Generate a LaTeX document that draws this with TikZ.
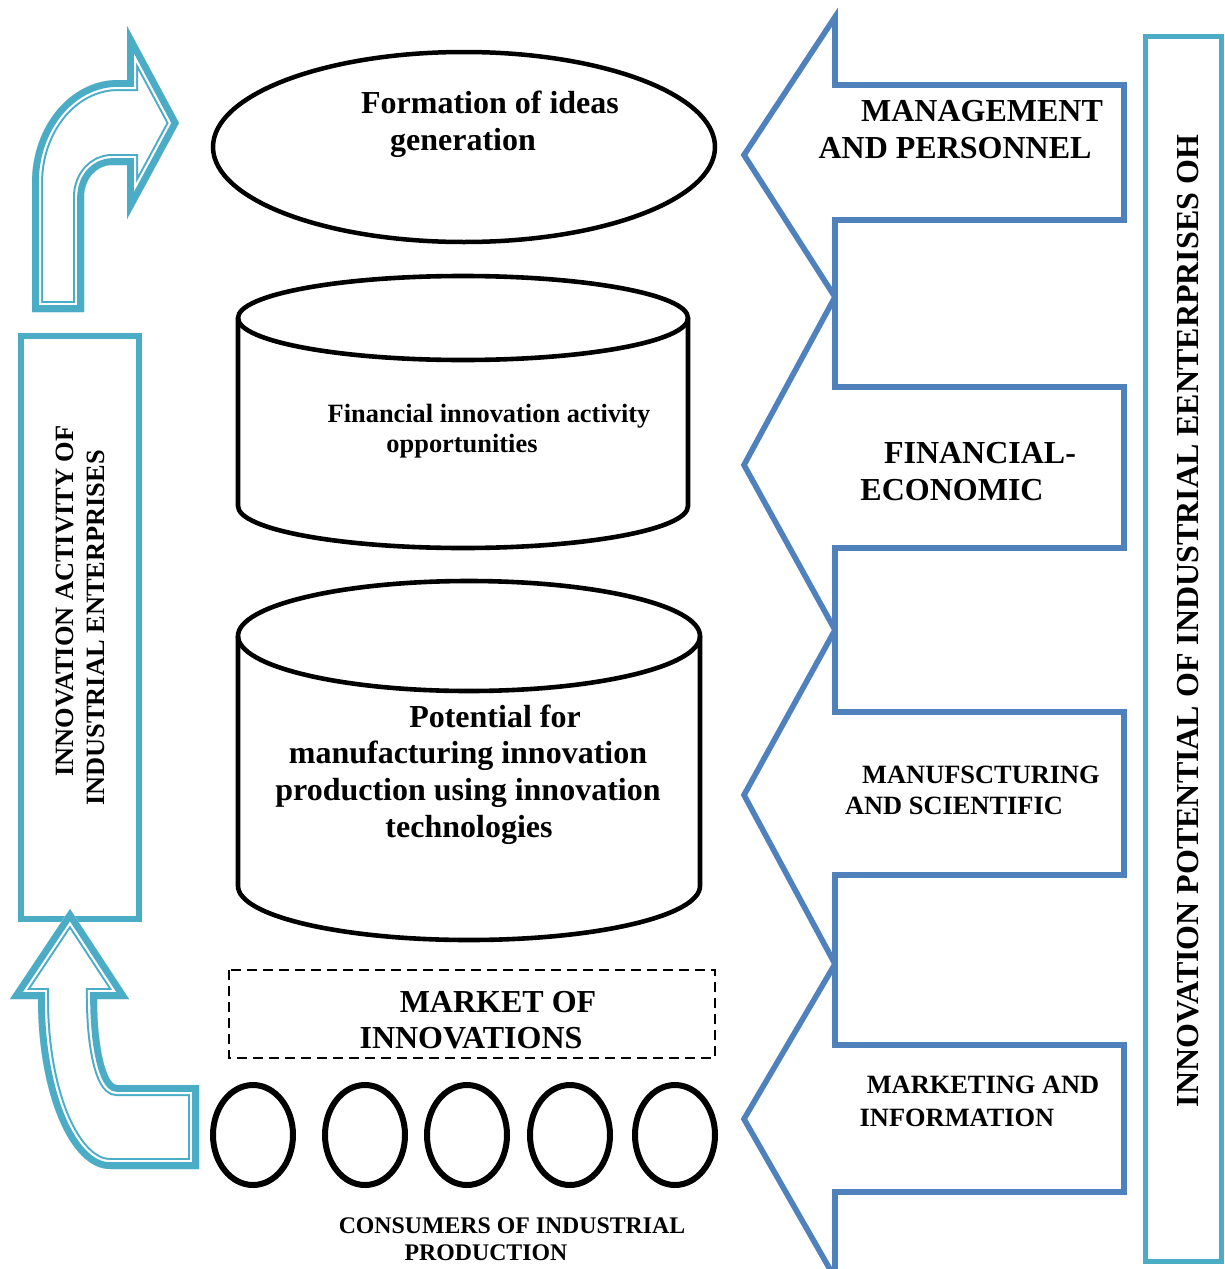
\documentclass[tikz,border=0pt]{standalone}
\usepackage{fontspec}
\setmainfont{Liberation Serif}
\definecolor{tealA}{HTML}{4BACC6}
\definecolor{blueA}{HTML}{4F81BD}
\tikzset{
  blk/.style={draw=black, line width=2.3pt},
  barrow/.style={draw=blueA, line width=2.8pt, line join=miter},
  tbox/.style={draw=tealA, line width=2.8pt},
  lbl/.style={anchor=base, inner sep=0pt, font=\bfseries\fontsize{16}{19}\selectfont},
  lbls/.style={anchor=base, inner sep=0pt, font=\bfseries\fontsize{13.2}{15}\selectfont},
  lblc/.style={anchor=base, inner sep=0pt, font=\bfseries\fontsize{11.9}{14}\selectfont},
}
\begin{document}
\begin{tikzpicture}[x=0.5pt,y=-0.5pt]
\useasboundingbox (0,0) rectangle (1225,1269);
\fill[white] (0,0) rectangle (1225,1269);

% ---- right blue arrows
\draw[barrow] (1124,85) -- (835,85) -- (835,17) -- (744,155) -- (835,297) -- (835,220) -- (1124,220) -- cycle;
\draw[barrow] (1124,387) -- (835,387) -- (835,297) -- (744,465) -- (835,630) -- (835,548) -- (1124,548) -- cycle;
\draw[barrow] (1124,712) -- (835,712) -- (835,630) -- (744,795) -- (835,964) -- (835,875) -- (1124,875) -- cycle;
\draw[barrow] (1124,1045) -- (835,1045) -- (835,964) -- (744,1119) -- (835,1278) -- (835,1192) -- (1124,1192) -- cycle;

% ---- right teal box
\draw[tbox] (1145.5,36.5) rectangle (1221.5,1261.5);

% ---- left teal box
\draw[tbox, fill=white] (21,336) rectangle (139,919);

% ---- top-left bent arrow
\path[save path=\pA] (32,312) -- (32,183) .. controls (32,126) and (70.5,80) .. (118,80) -- (127,80) -- (127,26) -- (179,123) -- (127,219) -- (127,165) -- (112,165) .. controls (96.5,165) and (84,179) .. (84,197) -- (84,312) -- cycle;
\begin{scope}
  \clip[use path=\pA];
  \fill[white, use path=\pA];
  \draw[tealA, line width=11pt, use path=\pA];
  \draw[white, line width=9pt, use path=\pA];
  \draw[tealA, line width=6.8pt, use path=\pA];
\end{scope}

% ---- bottom-left bent arrow
\path[save path=\pB] (70,909) -- (10,999) -- (38,999) .. controls (38,1093) and (70,1169) .. (110,1169) -- (199,1169) -- (199,1085) -- (117,1085) .. controls (106,1085) and (97,1046.5) .. (97,999) -- (129,999) -- cycle;
\begin{scope}
  \clip[use path=\pB];
  \fill[white, use path=\pB];
  \draw[tealA, line width=11pt, use path=\pB];
  \draw[white, line width=9pt, use path=\pB];
  \draw[tealA, line width=6.8pt, use path=\pB];
\end{scope}

% ---- top ellipse
\draw[blk, line width=2.25pt] (464,147) ellipse [x radius=125.5pt, y radius=47.5pt];

% ---- cylinder 1
\draw[blk] (463,318) ellipse [x radius=112.5pt, y radius=21pt];
\draw[blk] (238,318) -- (238,506) arc [start angle=180, end angle=360, x radius=112.5pt, y radius=21pt] -- (688,318);

% ---- cylinder 2
\draw[blk] (469,636) ellipse [x radius=115.5pt, y radius=27.5pt];
\draw[blk] (238,636) -- (238,886) arc [start angle=180, end angle=360, x radius=115.5pt, y radius=27pt] -- (700,636);

% ---- dashed box
\draw[line width=1.3pt, dash pattern=on 5pt off 3pt] (229,970) rectangle (715,1058);

% ---- consumer circles
\foreach \cx in {253,365,467,570,675}
  \draw[line width=3pt] (\cx,1135) ellipse [x radius=20pt, y radius=25pt];

% ---- texts
\node[lbl] (t1a) at (490,113) {Formation of ideas};
\node[lbl] (t1b) at (463,150) {generation};
\node[lbls] (t2a) at (489,422) {Financial innovation activity};
\node[lbls] (t2b) at (462,452) {opportunities};
\node[lbl] (t3a) at (495,727) {Potential for};
\node[lbl] (t3b) at (468,763) {manufacturing innovation};
\node[lbl] (t3c) at (468,800) {production using innovation};
\node[lbl] (t3d) at (469,837) {technologies};
\node[lbl] (m1) at (498,1012) {MARKET OF};
\node[lbl] (m2) at (471,1048) {INNOVATIONS};
\node[lblc] (c1) at (512,1233) {CONSUMERS OF INDUSTRIAL};
\node[lblc] (c2) at (486,1260) {PRODUCTION};
\node[lbl] (r1a) at (982,121) {MANAGEMENT};
\node[lbl] (r1b) at (955,158) {AND PERSONNEL};
\node[lbl] (r2a) at (980,463) {FINANCIAL-};
\node[lbl] (r2b) at (952,500) {ECONOMIC};
\node[lbls] (r3a) at (981,783) {MANUFSCTURING};
\node[lbls] (r3b) at (954,814) {AND SCIENTIFIC};
\node[lbls] (r4a) at (983,1093) {MARKETING AND};
\node[lbls] (r4b) at (957,1126) {INFORMATION};
\node[lbls, rotate=90] (l1) at (73,601) {INNOVATION ACTIVITY OF};
\node[lbls, rotate=90] (l2) at (104,628) {INDUSTRIAL ENTERPRISES};
\node[lbl, rotate=90] (rr) at (1198,621) {INNOVATION POTENTIAL OF INDUSTRIAL EENTERPRISES OH};
\end{tikzpicture}
\end{document}
